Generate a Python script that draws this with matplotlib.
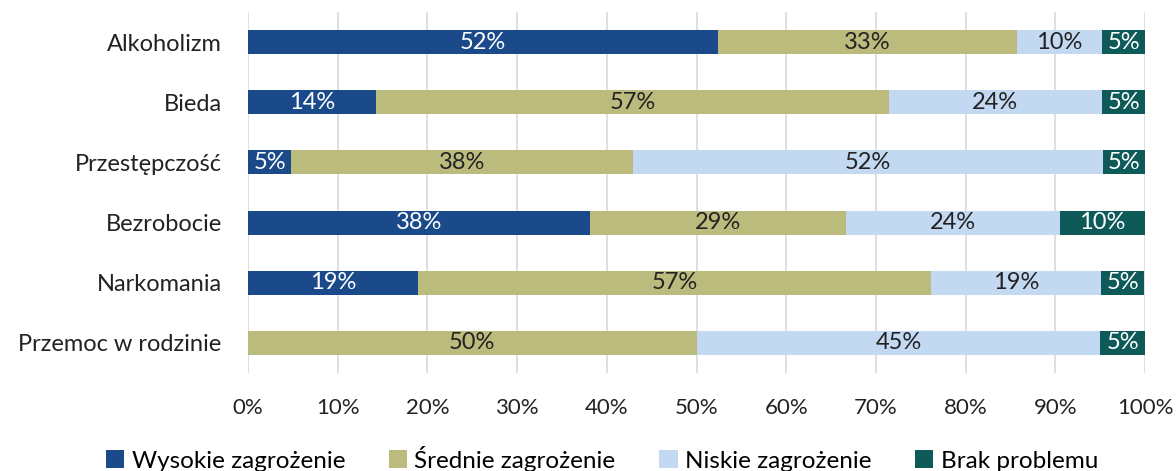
import matplotlib
matplotlib.use("Agg")
import matplotlib.pyplot as plt
import numpy as np

plt.rcParams['font.family'] = ['Lato', 'DejaVu Sans']

categories = ["Alkoholizm", "Bieda", "Przestępczość", "Bezrobocie", "Narkomania", "Przemoc w rodzinie"]
series_names = ["Wysokie zagrożenie", "Średnie zagrożenie", "Niskie zagrożenie", "Brak problemu"]
wysokie = [52.4, 14.3, 4.8, 38.1, 19.0, 0.0]
srednie = [33.3, 57.1, 38.1, 28.6, 57.1, 50.0]
niskie = [9.5, 23.8, 52.4, 23.8, 19.0, 45.0]
brak = [4.8, 4.8, 4.8, 9.5, 4.8, 5.0]
xticks = [0, 10, 20, 30, 40, 50, 60, 70, 80, 90, 100]

colors = ["#1A4A8A", "#BBBB7E", "#C3D9F2", "#0E5A59"]
text_colors = ["white", "#222222", "#222222", "white"]

fig = plt.figure(figsize=(11.76, 4.71), dpi=100)
ax = fig.add_axes([0.2109, 0.208, 0.7628, 0.7665])

y = np.arange(len(categories))
left = np.zeros(len(categories))
for name, vals, c, tc in zip(series_names, [wysokie, srednie, niskie, brak], colors, text_colors):
    vals = np.array(vals)
    ax.barh(y, vals, left=left, height=0.4, color=c, label=name, zorder=3)
    for yi, l, v in zip(y, left, vals):
        if v > 0:
            ax.text(l + v / 2, yi, f"{round(v)}%", ha="center", va="center",
                    color=tc, fontsize=17, zorder=4)
    left = left + vals

ax.set_xlim(0, 100)
ax.set_ylim(len(categories) - 0.5, -0.5)
ax.set_yticks(y)
ax.set_yticklabels(categories, fontsize=17, color="#222222")
ax.set_xticks(xticks)
ax.set_xticklabels([f"{t}%" for t in xticks], fontsize=16, color="#222222")
ax.tick_params(axis="both", length=0)
ax.tick_params(axis="x", pad=18)
ax.tick_params(axis="y", pad=19)
ax.grid(axis="x", color="#D9D9D9", linewidth=1.2, zorder=0)
for s in ax.spines.values():
    s.set_visible(False)

fig.legend(loc="lower center", ncol=4, frameon=False, fontsize=17.5,
           handlelength=0.75, handleheight=0.75, handletextpad=0.3,
           columnspacing=1.8, bbox_to_anchor=(0.512, -0.048))

fig.savefig("out.png", dpi=100)
